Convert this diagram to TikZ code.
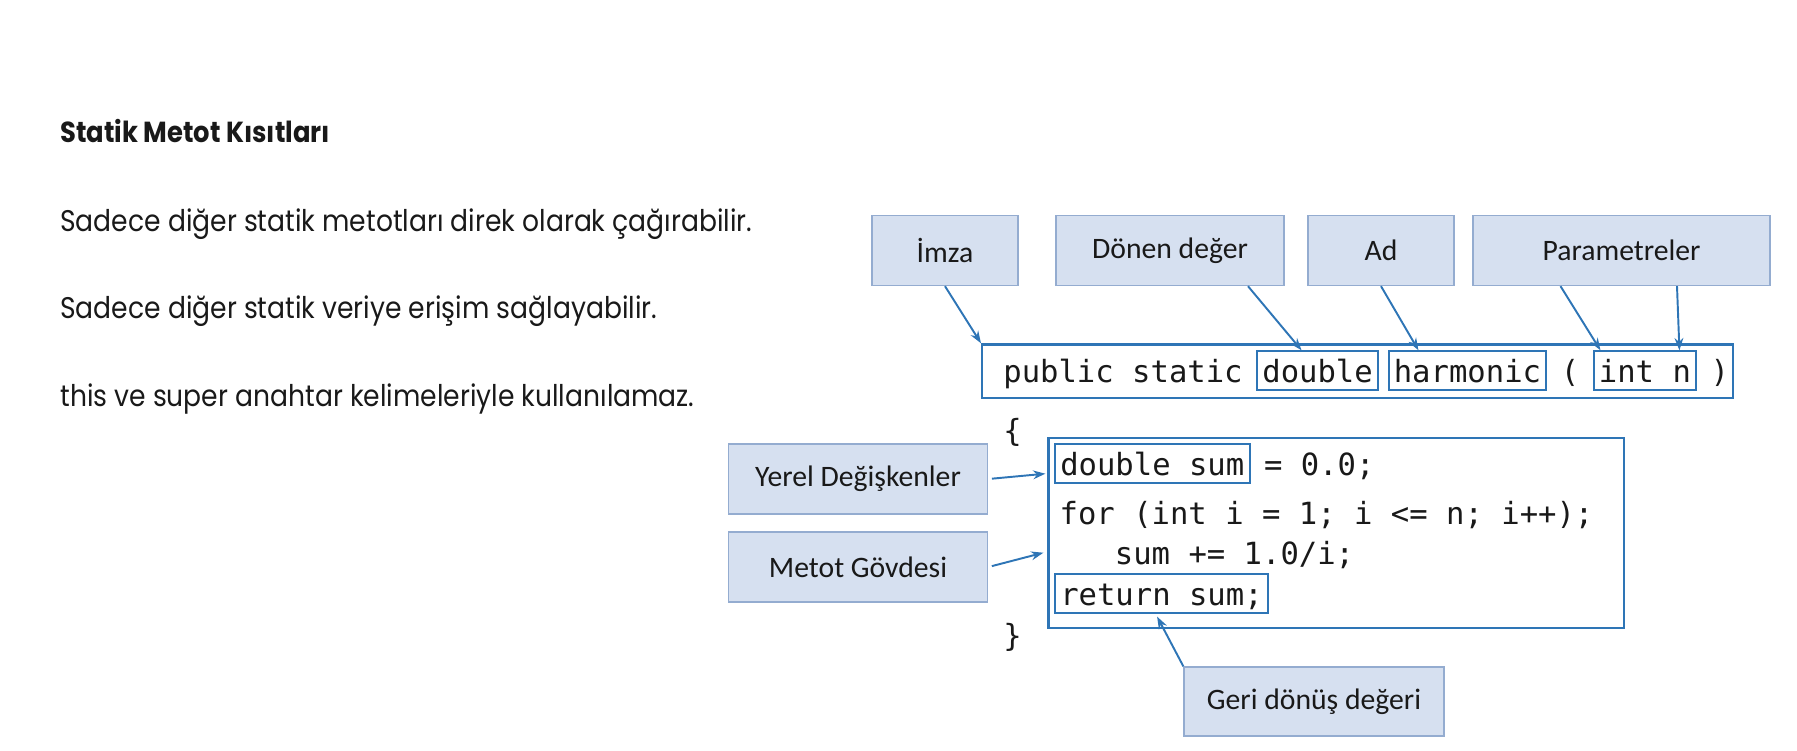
\documentclass[tikz,border=0pt]{standalone}
\usepackage{fontspec}
\setmainfont{Poppins}[FakeStretch=0.89]
\newfontfamily\labelfont{Carlito}
\newfontfamily\codefont{DejaVu Sans Mono}
\usetikzlibrary{arrows.meta,calc}

\definecolor{boxfill}{RGB}{214,224,240}
\definecolor{boxline}{RGB}{148,172,208}
\definecolor{codeblue}{RGB}{46,117,182}
\definecolor{inktext}{RGB}{25,25,25}

\tikzset{
	slidetext/.style={anchor=base west, inner sep=0pt, text=inktext, font=\fontsize{17pt}{20pt}\selectfont},
	labelbox/.style={draw=boxline, fill=boxfill, line width=0.8pt, minimum height=1.4cm, inner sep=0pt, text=inktext, font=\labelfont\fontsize{16.9pt}{20pt}\selectfont},
	codeseg/.style={anchor=base west, inner sep=0pt, text=inktext, font=\codefont\fontsize{17.4pt}{21pt}\selectfont},
	codebox/.style={codeseg, draw=codeblue, line width=1.1pt, inner xsep=3pt, inner ysep=1pt, text height=16.5pt, text depth=3.3pt},
	codeframe/.style={draw=codeblue, line width=1.4pt, inner sep=0pt, anchor=north west},
	pointer/.style={draw=codeblue, line width=1.1pt, -{Stealth[length=7pt,width=5pt]}},
}

\begin{document}
\begin{tikzpicture}[x=0.02cm, y=-0.02cm]
		%%%%% START %%%%%
		\useasboundingbox (0,0) rectangle (1797,750);
		
		\node[slidetext, font=\bfseries\fontsize{16.5pt}{20pt}\selectfont] (title) at (60,142) {Statik Metot Kısıtları};
		\node[slidetext] (rule1) at (60,231) {Sadece diğer statik metotları direk olarak çağırabilir.};
		\node[slidetext] (rule2) at (60,318) {Sadece diğer statik veriye erişim sağlayabilir.};
		\node[slidetext] (rule3) at (60,406) {this ve super anahtar kelimeleriyle kullanılamaz.};
		
		\node[labelbox, minimum width=2.92cm] (imza) at (945,250.5) {İmza};
		\node[labelbox, minimum width=4.56cm] (donen) at (1170,250.5) {Dönen değer};
		\node[labelbox, minimum width=2.92cm] (ad) at (1381,250.5) {Ad};
		\node[labelbox, minimum width=5.94cm] (param) at (1621.5,250.5) {Parametreler};
		\node[labelbox, minimum width=5.19cm] (yerel) at (858,479) {Yerel Değişkenler};
		\node[labelbox, minimum width=5.19cm] (govde) at (858,567) {Metot Gövdesi};
		\node[labelbox, minimum width=5.2cm, minimum height=1.38cm] (geri) at (1314,701.5) {Geri dönüş değeri};
		
		\node[codeframe, minimum width=15.02cm, minimum height=1.07cm] (sig) at (981,343.3) {};
		\node[codeframe, minimum width=11.51cm, minimum height=3.8cm] (body) at (1047.4,436.7) {};
		
		\node[codeseg] (pub) at (1003,382) {public static\ \null};
		\node[codebox] (dbl) at ([xshift=-3pt]pub.base east) {double};
		\node[codeseg] (gap1) at ([xshift=-3pt]dbl.base east) {\ \null};
		\node[codebox] (harm) at ([xshift=-3pt]gap1.base east) {harmonic};
		\node[codeseg] (open) at ([xshift=-3pt]harm.base east) {\ (\ \null};
		\node[codebox] (intn) at ([xshift=-3pt]open.base east) {int n};
		\node[codeseg] (close) at ([xshift=-3pt]intn.base east) {\ )};
		
		\node[codeseg] (lbrace) at (1003,441) {\{};
		\node[codebox] (dsum) at (1054,475) {double sum};
		\node[codeseg] (dinit) at ([xshift=-3pt]dsum.base east) {\ = 0.0;};
		\node[codeseg] (forln) at (1059.3,524) {for (int i = 1; i <= n; i++);};
		\node[codeseg] (sumln) at (1059.3,564) {\ \ \ sum += 1.0/i;};
		\node[codebox] (ret) at (1054,605) {return sum;};
		\node[codeseg] (rbrace) at (1003,646) {\}};
		
		\draw[pointer] (imza.south) -- (sig.north west);
		\draw[pointer] ([xshift=1.56cm]donen.south) -- ([xshift=-0.32cm]dbl.north);
		\draw[pointer] (ad.south) -- ([xshift=-0.98cm]harm.north);
		\draw[pointer] ([xshift=-1.22cm]param.south) -- ([xshift=-0.89cm]intn.north);
		\draw[pointer] ([xshift=1.11cm]param.south) -- ([xshift=0.69cm]intn.north);
		\draw[pointer, shorten <=2pt] (yerel.east) -- ($(body.north west)+(-2,37)$);
		\draw[pointer, shorten <=2pt] (govde.east) -- ($(body.north west)+(-4,116)$);
		\draw[pointer, shorten >=2pt] (geri.north west) -- ([xshift=-0.12cm]ret.south);
		
		%%%%% END %%%%%
	\end{tikzpicture}
\end{document}
